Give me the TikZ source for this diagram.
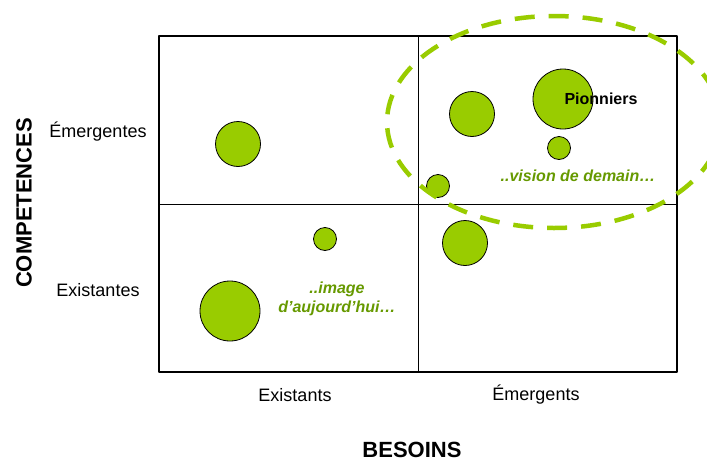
\documentclass[tikz,border=0pt]{standalone}
\usepackage{fontspec}
\setmainfont{Liberation Sans}
\definecolor{lime}{RGB}{153,204,0}
\definecolor{olive}{RGB}{102,153,0}
\tikzset{
	bubble/.style={circle, draw=black, line width=0.8pt, fill=lime, inner sep=0pt},
	vision/.style={draw=lime, line width=4.5pt, dash pattern=on 20pt off 14pt},
	note/.style={text=olive, font=\fontsize{16}{19}\selectfont\bfseries\itshape, align=center},
	tick/.style={font=\fontsize{18}{21}\selectfont},
	axis/.style={font=\fontsize{22}{26}\selectfont\bfseries}
}
\begin{document}
\begin{tikzpicture}[x=1pt, y=-1pt, line join=round]
			\useasboundingbox (0,0) rectangle (707,461);
			\coordinate (TL) at (159,36);
			\coordinate (BR) at (677,372);
			\coordinate (T) at (418,36);
			\coordinate (B) at (418,372);
			\coordinate (L) at (159,204);
			\coordinate (R) at (677,204);
			
			% quadrants
			\draw[line width=0.8pt] (T) -- (B);
			\draw[line width=0.8pt] (L) -- (R);
			\draw[line width=2pt] (TL) rectangle (BR);
			
			% bubbles
			\node[bubble, minimum size=45pt] (b1) at (238,144) {};
			\node[bubble, minimum size=23pt] (b2) at (325,239) {};
			\node[bubble, minimum size=60pt] (b3) at (230,311) {};
			\node[bubble, minimum size=45pt] (b4) at (472,114) {};
			\node[bubble, minimum size=60pt] (b5) at (563,99) {};
			\node[bubble, minimum size=23pt] (b6) at (559,148) {};
			\node[bubble, minimum size=23pt] (b7) at (438,186) {};
			\node[bubble, minimum size=45pt] (b8) at (465,243) {};
			
			% vision de demain
			\draw[vision] (554,122) ellipse [x radius=167, y radius=106];
			
			\node[font=\fontsize{16}{19}\selectfont\bfseries] (pion) at (601,99) {Pionniers};
			\node[note] (demain) at (578,176) {..vision de demain…};
			\node[note] (today) at (337,299) {..image\\d’aujourd’hui…};
			
			\node[tick] (emy) at (98,132) {Émergentes};
			\node[tick] (exy) at (98,290) {Existantes};
			\node[tick] (exx) at (295,395) {Existants};
			\node[tick] (emx) at (536,395) {Émergents};
			
			\node[axis, rotate=90] (comp) at (24,203) {COMPETENCES};
			\node[axis] (bes) at (412,450) {BESOINS};
		\end{tikzpicture}
\end{document}
